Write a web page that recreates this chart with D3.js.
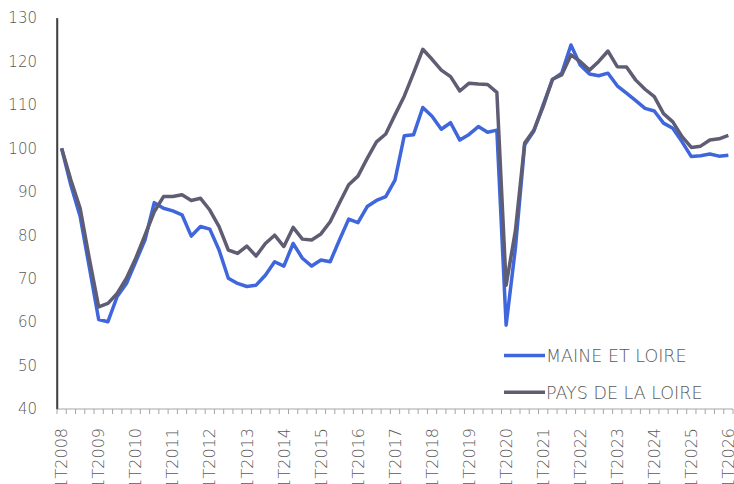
<!DOCTYPE html>
<html>
<head>
<meta charset="utf-8">
<script src="https://cdn.jsdelivr.net/npm/d3@7"></script>
<style>
  body { margin: 0; background: #fff; }
  svg text { font-family: "DejaVu Sans", "Noto Sans", sans-serif; font-weight: 200; fill: #595959; }
</style>
</head>
<body>
<div id="chart"></div>
<script>
// quarterly index, base 100 = 1T2008
const years = d3.range(2008, 2027);
const quarters = [];
years.forEach(y => {
    for (let q = 1; q <= 4; q++) {
        if (y === 2026 && q > 1) break;
        quarters.push(q + 'T' + y);
    }
});

const maineEtLoire = [
    100, 91.5, 84.3, 72.5, 60.6, 60.1, 65.9, 68.9,
    73.9, 78.9, 87.5, 86.2, 85.6, 84.7, 79.8, 82.0,
    81.4, 76.6, 70.1, 68.9, 68.2, 68.5, 70.8, 73.9,
    72.9, 78.1, 74.7, 72.9, 74.3, 73.9, 78.9, 83.7,
    82.9, 86.6, 88.0, 88.9, 92.7, 102.9, 103.1, 109.4,
    107.4, 104.4, 105.9, 101.9, 103.2, 105.0, 103.7, 104.2,
    59.3, 77.0, 100.8, 104.0, 110.0, 115.8, 117.3, 123.8,
    119.2, 117.1, 116.7, 117.3, 114.4, 112.7, 111.0, 109.2,
    108.6, 105.8, 104.6, 101.5, 98.1, 98.3, 98.7, 98.2,
    98.4
];

const paysDeLaLoire = [
    100, 92.7, 86.2, 74.5, 63.5, 64.3, 66.6, 70.1,
    74.7, 80.0, 85.4, 88.9, 88.9, 89.3, 88.0, 88.5,
    85.8, 82.0, 76.6, 75.8, 77.5, 75.2, 78.1, 80.0,
    77.4, 81.8, 79.1, 78.9, 80.3, 83.1, 87.4, 91.6,
    93.6, 97.7, 101.5, 103.3, 107.7, 112.0, 117.3, 122.8,
    120.5, 118.0, 116.5, 113.2, 115.0, 114.8, 114.7, 112.9,
    68.5, 81.0, 101.2, 104.2, 109.6, 115.9, 116.9, 121.5,
    120.0, 118.0, 120.0, 122.4, 118.8, 118.7, 115.7, 113.6,
    111.9, 108.0, 106.1, 102.7, 100.2, 100.5, 101.9, 102.2,
    103.0
];

const seriesNames = ['MAINE ET LOIRE', 'PAYS DE LA LOIRE'];
const yTicks = [40, 50, 60, 70, 80, 90, 100, 110, 120, 130];

const width = 734, height = 484;
const margin = { top: 18, right: 1, bottom: 75, left: 57 };
const colors = ['#3F67DB', '#5E5D73'];

const svg = d3.select('#chart').append('svg')
    .attr('width', width)
    .attr('height', height);

const x = d3.scaleBand()
    .domain(quarters)
    .range([margin.left, width - margin.right]);

const y = d3.scaleLinear()
    .domain([40, 130])
    .range([height - margin.bottom, margin.top]);

// y axis
const yAxis = svg.append('g')
    .attr('transform', `translate(${margin.left},0)`)
    .call(d3.axisLeft(y).tickValues(yTicks).tickSize(0).tickPadding(20));
yAxis.select('.domain').attr('stroke', '#404040').attr('stroke-width', 1.5);
yAxis.selectAll('text').style('font-size', '15px').attr('fill', '#595959');

// x axis: a tick at each quarter boundary, labels every first quarter
const xAxisG = svg.append('g')
    .attr('transform', `translate(0,${y(40)})`);
xAxisG.append('line')
    .attr('x1', margin.left).attr('x2', width - margin.right)
    .attr('stroke', '#a6a6a6').attr('stroke-width', 1);
xAxisG.selectAll('.qtick')
    .data(quarters.concat(['end']))
    .enter().append('line')
    .attr('class', 'qtick')
    .attr('x1', (d, i) => margin.left + i * x.step())
    .attr('x2', (d, i) => margin.left + i * x.step())
    .attr('y1', 0).attr('y2', 5)
    .attr('stroke', '#a6a6a6');
xAxisG.selectAll('.xlabel')
    .data(quarters.filter(q => q.startsWith('1T')))
    .enter().append('text')
    .attr('class', 'xlabel')
    .attr('transform', d => `translate(${x(d) + x.bandwidth() / 2 + 5.7},19) rotate(-90)`)
    .attr('text-anchor', 'end')
    .style('font-size', '16px')
    .text(d => d);

// left axis line drawn on top of x axis start
svg.append('line')
    .attr('x1', margin.left).attr('x2', margin.left)
    .attr('y1', margin.top).attr('y2', y(40))
    .attr('stroke', '#404040').attr('stroke-width', 1.5);

const line = d3.line()
    .x((d, i) => x(quarters[i]) + x.bandwidth() / 2)
    .y(d => y(d));

[maineEtLoire, paysDeLaLoire].forEach((s, k) => {
    svg.append('path')
        .datum(s)
        .attr('fill', 'none')
        .attr('stroke', colors[k])
        .attr('stroke-width', 3.5)
        .attr('stroke-linejoin', 'round')
        .attr('d', line);
});

// legend
const legend = svg.append('g').attr('transform', 'translate(504,355.5)');
seriesNames.forEach((name, k) => {
    const g = legend.append('g').attr('transform', `translate(0,${k * 36.7})`);
    g.append('line')
        .attr('x1', 0).attr('x2', 41)
        .attr('stroke', colors[k]).attr('stroke-width', 3.5);
    g.append('text')
        .attr('x', 42).attr('y', 6.5)
        .style('font-size', '17.5px')
        .text(name);
});
</script>
</body>
</html>
